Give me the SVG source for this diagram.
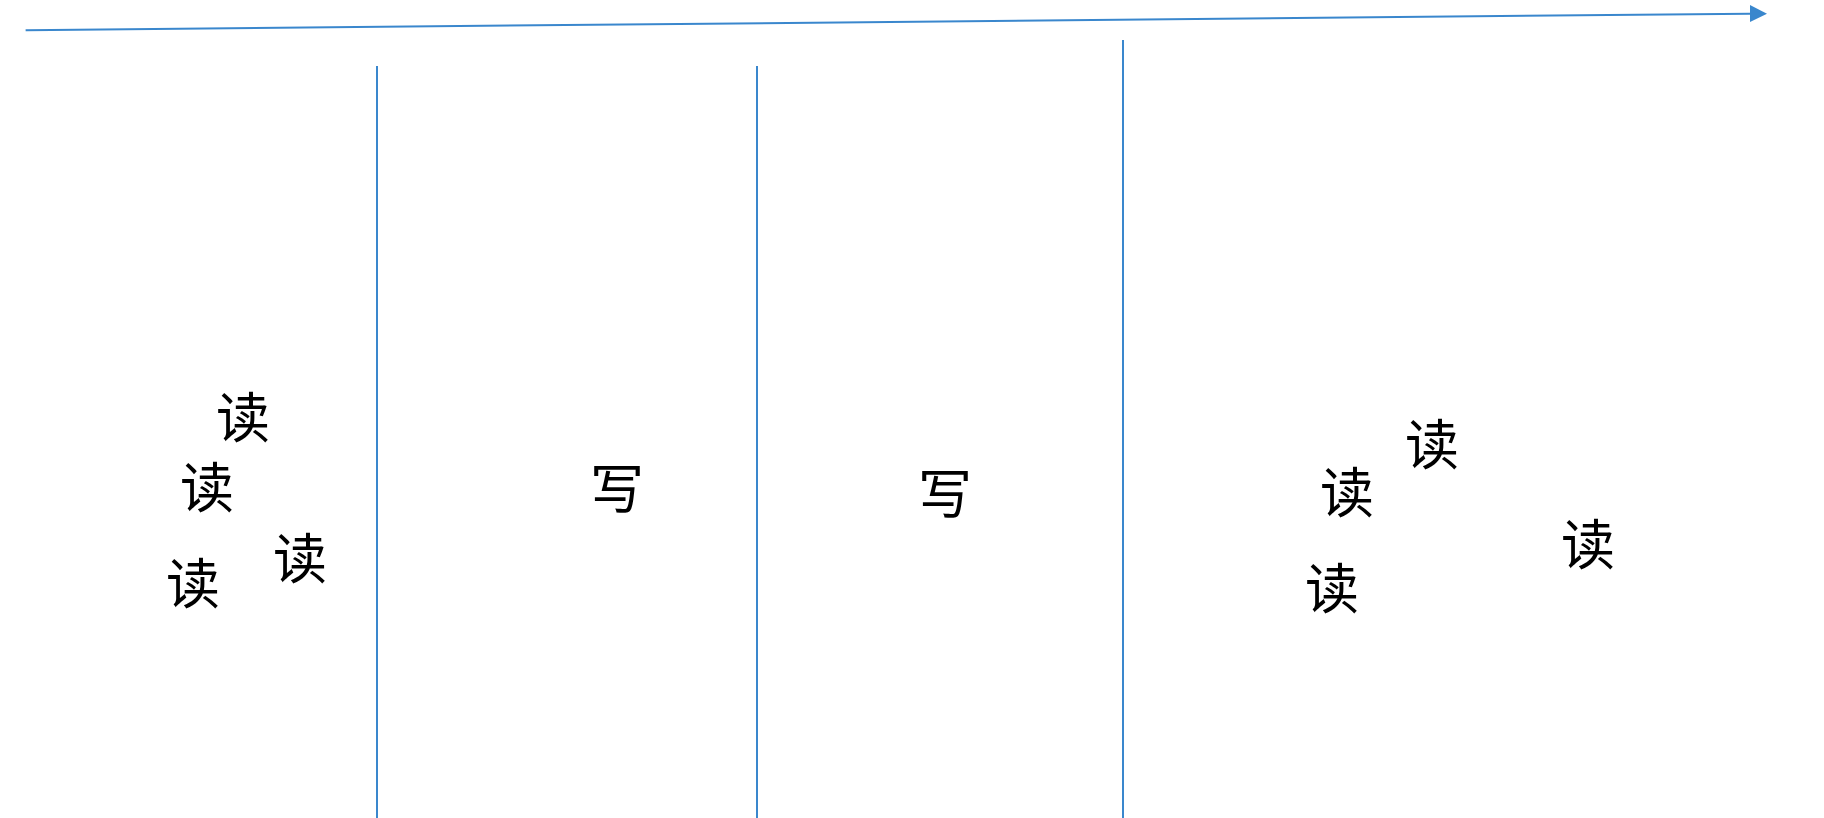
<svg xmlns="http://www.w3.org/2000/svg" width="1824" height="818" viewBox="0 0 1824 818">
<style>
.ln{stroke:#3A87CD;stroke-width:2;fill:none}
.ah{fill:#3A87CD}
.t{font-family:"Noto Sans CJK SC","Noto Sans CJK JP",sans-serif;font-size:54px;fill:#000;text-anchor:middle;dominant-baseline:central}
</style>
<rect width="1824" height="818" fill="#fff"/>
<g id="connectors">
<line class="ln" x1="25.6" y1="30.2" x2="1750" y2="13.7"/>
<path class="ah" d="M1750,5 L1767,13.7 L1750,22 Z"/>
<line class="ln" x1="377" y1="66" x2="377" y2="818"/>
<line class="ln" x1="757" y1="66" x2="757" y2="818"/>
<line class="ln" x1="1123" y1="40" x2="1123" y2="818"/>
</g>
<g id="r1"><text class="t" x="243" y="414">读</text></g>
<g id="r2"><text class="t" x="207" y="484">读</text></g>
<g id="r3"><text class="t" x="193" y="580">读</text></g>
<g id="r4"><text class="t" x="300" y="555">读</text></g>
<g id="w1"><text class="t" x="617" y="485">写</text></g>
<g id="w2"><text class="t" x="945" y="490">写</text></g>
<g id="r5"><text class="t" x="1432" y="441">读</text></g>
<g id="r6"><text class="t" x="1347" y="489">读</text></g>
<g id="r7"><text class="t" x="1332" y="585">读</text></g>
<g id="r8"><text class="t" x="1588" y="541">读</text></g>
</svg>
